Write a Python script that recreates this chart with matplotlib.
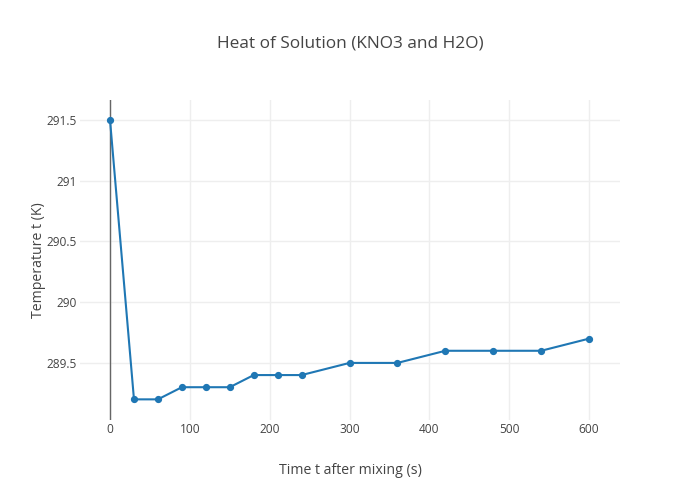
import matplotlib
matplotlib.use('Agg')
import matplotlib.pyplot as plt

times = [0, 30, 60, 90, 120, 150, 180, 210, 240, 300, 360, 420, 480, 540, 600]
temps = [291.5, 289.2, 289.2, 289.3, 289.3, 289.3, 289.4, 289.4, 289.4,
         289.5, 289.5, 289.6, 289.6, 289.6, 289.7]
x_ticks = [0, 100, 200, 300, 400, 500, 600]
y_ticks = [289.5, 290, 290.5, 291, 291.5]
y_labels = ['289.5', '290', '290.5', '291', '291.5']

plt.rcParams['font.family'] = ['Open Sans', 'DejaVu Sans']
text_color = '#444444'

fig = plt.figure(figsize=(7, 5), dpi=100)
ax = fig.add_axes([80 / 700, 80 / 500, 540 / 700, 320 / 500])

ax.plot(times, temps, color='#1f77b4', linewidth=1.5, marker='o',
        markersize=4.2, zorder=3, clip_on=False)

ax.set_xlim(-37.6, 638.8)
ax.set_ylim(289.03, 291.665)
ax.set_xticks(x_ticks)
ax.set_yticks(y_ticks)
ax.set_yticklabels(y_labels)

ax.grid(True, color='#eeeeee', linewidth=1)
ax.set_axisbelow(True)
ax.axvline(0, color='#666666', linewidth=1, zorder=2)

for side in ['top', 'right', 'left', 'bottom']:
    ax.spines[side].set_visible(False)
ax.tick_params(axis='both', which='both', length=0, labelsize=8.6,
               colors=text_color, pad=2.5)

ax.set_xlabel('Time t after mixing (s)', fontsize=10.2, color=text_color,
              labelpad=19)
ax.set_ylabel('Temperature t (K)', fontsize=10.2, color=text_color,
              labelpad=0)
fig.text(0.5, 0.912, 'Heat of Solution (KNO3 and H2O)', ha='center',
         va='center', fontsize=12.4, color=text_color)

fig.savefig('out.png', dpi=100)
